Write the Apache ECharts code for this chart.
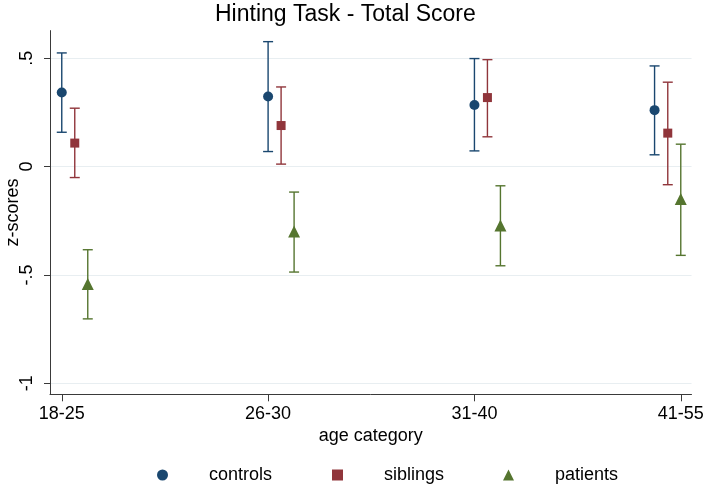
<!DOCTYPE html>
<html>
<head>
<meta charset="utf-8">
<script src="https://cdn.jsdelivr.net/npm/echarts@6/dist/echarts.min.js"></script>
<style>
html,body{margin:0;padding:0;background:#ffffff;}
#chart{width:707px;height:489px;}
</style>
</head>
<body>
<div id="chart"></div>
<script>
// ---- data ----
var categories = ['18-25', '26-30', '31-40', '41-55'];
var yTicks = [-1, -0.5, 0, 0.5];
var yTickLabels = ['-1', '-.5', '0', '.5'];

var controlsX    = [1, 2, 3, 3.873];
var controlsMean = [0.341, 0.323, 0.284, 0.260];
var controlsLo   = [0.158, 0.069, 0.072, 0.054];
var controlsHi   = [0.524, 0.576, 0.498, 0.464];

var siblingsX    = [1.063, 2.063, 3.063, 3.937];
var siblingsMean = [0.108, 0.189, 0.318, 0.154];
var siblingsLo   = [-0.051, 0.011, 0.137, -0.084];
var siblingsHi   = [0.269, 0.367, 0.493, 0.389];

var patientsX    = [1.126, 2.126, 3.126, 4];
var patientsMean = [-0.542, -0.300, -0.272, -0.150];
var patientsLo   = [-0.703, -0.487, -0.458, -0.410];
var patientsHi   = [-0.384, -0.118, -0.089, 0.103];

// ---- styling ----
var FONT = 'Liberation Sans, Arial, Helvetica, sans-serif';
var C_CONTROLS = '#1a476f';
var C_SIBLINGS = '#90353b';
var C_PATIENTS = '#55752f';

function pts(xs, ys) { return xs.map(function (x, i) { return [x, ys[i]]; }); }
function bars(xs, lo, hi) { return xs.map(function (x, i) { return [x, lo[i], hi[i]]; }); }

function errorSeries(name, color, data) {
  return {
    type: 'custom',
    name: name + ' ci',
    data: data,
    encode: { x: 0, y: [1, 2] },
    z: 2,
    silent: true,
    renderItem: function (params, api) {
      var x = api.value(0);
      var lo = api.coord([x, api.value(1)]);
      var hi = api.coord([x, api.value(2)]);
      var hw = 5;
      var st = { stroke: color, lineWidth: 1.4 };
      return {
        type: 'group',
        children: [
          { type: 'line', shape: { x1: lo[0], y1: lo[1], x2: hi[0], y2: hi[1] }, style: st },
          { type: 'line', shape: { x1: lo[0] - hw, y1: lo[1], x2: lo[0] + hw, y2: lo[1] }, style: st },
          { type: 'line', shape: { x1: hi[0] - hw, y1: hi[1], x2: hi[0] + hw, y2: hi[1] }, style: st }
        ]
      };
    }
  };
}

function pointSeries(name, color, symbol, size, data) {
  return {
    type: 'scatter',
    name: name,
    data: data,
    symbol: symbol,
    symbolSize: size,
    itemStyle: { color: color, opacity: 1 },
    z: 3
  };
}

function legendAt(name, left) {
  return {
    data: [name],
    left: left,
    top: 461,
    itemWidth: 11,
    itemHeight: 11,
    textStyle: { fontFamily: FONT, fontSize: 18, color: '#000', padding: [0, 0, 0, 36] },
    selectedMode: false
  };
}

var chart = echarts.init(document.getElementById('chart'), null, { renderer: 'canvas' });
chart.setOption({
  backgroundColor: '#ffffff',
  animation: false,
  title: {
    text: 'Hinting Task - Total Score',
    left: 210,
    top: -2,
    textStyle: { fontFamily: FONT, fontSize: 23, fontWeight: 'normal', color: '#000' }
  },
  legend: [
    legendAt('controls', 152),
    legendAt('siblings', 327),
    legendAt('patients', 498)
  ],
  grid: { left: 50, right: 15.5, top: 30.6, bottom: 489 - 394.3, containLabel: false, outerBoundsMode: 'none' },
  xAxis: {
    type: 'value',
    min: 0.943,
    max: 4.052,
    name: 'age category',
    nameLocation: 'middle',
    nameGap: 33,
    nameMoveOverlap: false,
    nameTextStyle: { fontFamily: FONT, fontSize: 18, color: '#000' },
    axisLine: { show: true, onZero: false, lineStyle: { color: '#3a3a3a', width: 1 } },
    axisTick: { show: true, length: 7, lineStyle: { color: '#3a3a3a' }, customValues: [1, 2, 3, 4] },
    axisLabel: {
      customValues: [1, 2, 3, 4],
      margin: 11,
      fontFamily: FONT, fontSize: 18, color: '#000',
      formatter: function (v) { return categories[Math.round(v) - 1] || ''; }
    },
    splitLine: { show: false }
  },
  yAxis: {
    type: 'value',
    min: -1.051,
    max: 0.627,
    name: 'z-scores',
    nameLocation: 'middle',
    nameGap: 28,
    nameRotate: 90,
    nameMoveOverlap: false,
    nameTextStyle: { fontFamily: FONT, fontSize: 18, color: '#000' },
    axisLine: { show: true, onZero: false, lineStyle: { color: '#3a3a3a', width: 1 } },
    axisTick: { show: true, length: 6, lineStyle: { color: '#3a3a3a' }, customValues: yTicks },
    axisLabel: {
      customValues: yTicks,
      rotate: 90,
      margin: 14,
      fontFamily: FONT, fontSize: 18, color: '#000',
      formatter: function (v) {
        for (var i = 0; i < yTicks.length; i++) { if (Math.abs(yTicks[i] - v) < 1e-6) return yTickLabels[i]; }
        return '';
      }
    },
    splitLine: { show: true, lineStyle: { color: '#e8eef1', width: 1.2 } }
  },
  series: [
    errorSeries('controls', C_CONTROLS, bars(controlsX, controlsLo, controlsHi)),
    errorSeries('siblings', C_SIBLINGS, bars(siblingsX, siblingsLo, siblingsHi)),
    errorSeries('patients', C_PATIENTS, bars(patientsX, patientsLo, patientsHi)),
    pointSeries('controls', C_CONTROLS, 'circle', 10, pts(controlsX, controlsMean)),
    pointSeries('siblings', C_SIBLINGS, 'rect', 9, pts(siblingsX, siblingsMean)),
    pointSeries('patients', C_PATIENTS, 'triangle', 12, pts(patientsX, patientsMean))
  ]
});
</script>
</body>
</html>
